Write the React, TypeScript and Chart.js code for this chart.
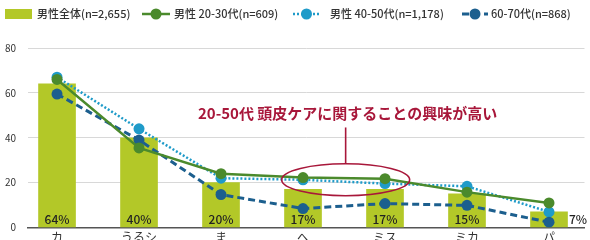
import React, { useEffect, useRef } from "react";
import { Chart, registerables } from "chart.js";
Chart.register(...registerables);

const categories = ["カ", "うるシ", "ま", "へ", "ミス", "ミカ", "パ"];
const totalValues = [64, 40, 20, 17, 17, 15, 7];
const age2030 = [66, 35.5, 24, 22.3, 21.8, 15.8, 11];
const age4050 = [67, 44, 22, 21.3, 19.6, 18.4, 7];
const age6070 = [59.5, 39, 14.7, 8.5, 10.7, 9.9, 2.4];
const yTicks = [0, 20, 40, 60, 80];
const seriesNames = ["男性全体(n=2,655)", "男性 20-30代(n=609)", "男性 40-50代(n=1,178)", "60-70代(n=868)"];
const annotationText = "20-50代 頭皮ケアに関することの興味が高い";

const FONT = "'Noto Sans CJK JP', 'Noto Sans', sans-serif";
const BAR_COLOR = "#b3c828";
const GREEN = "#4b8a2c";
const LIGHT_BLUE = "#1f9bc9";
const DARK_BLUE = "#1c5f8e";
const RED = "#a8173a";

const toPts = (arr: number[]) => arr.map((v, i) => ({ x: i, y: v }));

const overlay = {
  id: "overlay",
  afterDatasetsDraw(chart: any) {
    const ctx = chart.ctx;
    const xs = chart.scales.x;
    const ys = chart.scales.y;
    const barMeta = chart.getDatasetMeta(0);
    ctx.save();
    ctx.font = `500 12px ${FONT}`;
    ctx.fillStyle = "#222";
    ctx.textBaseline = "middle";
    ctx.textAlign = "center";
    const base = ys.getPixelForValue(0);
    barMeta.data.forEach((bar: any, i: number) => {
      const v = totalValues[i];
      const txt = `${v}%`;
      if (v < 10) {
        ctx.fillText(txt, bar.x + 29, base - 8);
      } else {
        ctx.fillText(txt, bar.x, base - 8);
      }
    });
    const cx = xs.getPixelForValue(3.52);
    const cy = ys.getPixelForValue(21.3);
    ctx.strokeStyle = RED;
    ctx.lineWidth = 1.6;
    ctx.beginPath();
    ctx.ellipse(cx, cy, 64, 16, 0, 0, Math.PI * 2);
    ctx.stroke();
    ctx.beginPath();
    ctx.moveTo(cx, ys.getPixelForValue(44.6));
    ctx.lineTo(cx, cy - 16);
    ctx.stroke();
    ctx.font = `600 15px ${FONT}`;
    ctx.fillStyle = RED;
    ctx.fillText(annotationText, cx + 2, ys.getPixelForValue(51));
    ctx.restore();
  },
  afterDraw(chart: any) {
    const ctx = chart.ctx;
    ctx.save();
    const y = 14;
    ctx.font = `500 11px ${FONT}`;
    ctx.fillStyle = "#333";
    ctx.textBaseline = "middle";
    ctx.textAlign = "left";
    ctx.fillStyle = BAR_COLOR;
    ctx.fillRect(5, 9, 27, 10);
    ctx.fillStyle = "#333";
    ctx.fillText(seriesNames[0], 37, y);
    const lineItem = (x0: number, x1: number, color: string, dash: number[], tx: number, label: string, w: number) => {
      ctx.strokeStyle = color;
      ctx.lineWidth = w;
      ctx.setLineDash(dash);
      ctx.beginPath();
      ctx.moveTo(x0, y);
      ctx.lineTo(x1, y);
      ctx.stroke();
      ctx.setLineDash([]);
      ctx.fillStyle = color;
      ctx.beginPath();
      ctx.arc((x0 + x1) / 2, y, 5.5, 0, Math.PI * 2);
      ctx.fill();
      ctx.fillStyle = "#333";
      ctx.fillText(label, tx, y);
    };
    lineItem(142, 170, GREEN, [], 174, seriesNames[1], 2.5);
    lineItem(293, 320, LIGHT_BLUE, [2, 2], 330, seriesNames[2], 2.5);
    lineItem(462, 488, DARK_BLUE, [7, 4], 491, seriesNames[3], 3);
    ctx.restore();
  },
};

export default function App() {
  const ref = useRef<HTMLCanvasElement>(null);
  useEffect(() => {
    if (!ref.current) return;
    Chart.defaults.font.family = FONT;
    const chart = new Chart(ref.current, {
      type: "bar",
      data: {
        datasets: [
          {
            type: "bar",
            label: seriesNames[0],
            data: toPts(totalValues),
            backgroundColor: BAR_COLOR,
            barThickness: 37,
            order: 4,
          } as any,
          {
            type: "line",
            label: seriesNames[1],
            data: toPts(age2030),
            borderColor: GREEN,
            backgroundColor: GREEN,
            borderWidth: 2.5,
            pointRadius: 5.5,
            pointBorderWidth: 0,
            order: 1,
          },
          {
            type: "line",
            label: seriesNames[2],
            data: toPts(age4050),
            borderColor: LIGHT_BLUE,
            backgroundColor: LIGHT_BLUE,
            borderWidth: 2.5,
            borderDash: [2, 2],
            pointRadius: 5.5,
            pointBorderWidth: 0,
            order: 3,
          },
          {
            type: "line",
            label: seriesNames[3],
            data: toPts(age6070),
            borderColor: DARK_BLUE,
            backgroundColor: DARK_BLUE,
            borderWidth: 3,
            borderDash: [7, 4],
            pointRadius: 5.5,
            pointBorderWidth: 0,
            order: 2,
          },
        ],
      },
      options: {
        responsive: false,
        animation: false,
        layout: { padding: { top: 48, left: 0, right: 0, bottom: 0 } },
        plugins: { legend: { display: false }, tooltip: { enabled: false } },
        scales: {
          x: {
            type: "linear",
            bounds: "data",
            min: -0.354,
            max: 6.433,
            offset: false,
            afterBuildTicks: (axis: any) => {
              axis.ticks = categories.map((_, i) => ({ value: i }));
            },
            ticks: {
              callback: (v: any) => categories[v] ?? "",
              font: { size: 12 },
              color: "#333",
              padding: 3,
              maxRotation: 0,
              autoSkip: false,
            },
            grid: { display: false, drawTicks: false, offset: false },
            border: { display: true, color: "#555", width: 1.5 },
          },
          y: {
            min: 0,
            max: 80,
            afterBuildTicks: (axis: any) => {
              axis.ticks = yTicks.map((v) => ({ value: v }));
            },
            afterFit: (axis: any) => {
              axis.width = 28;
            },
            ticks: { font: { size: 10 }, color: "#333", padding: 12 },
            grid: { color: "#d8d8d8", drawTicks: false },
            border: { display: false },
          },
        },
      },
      plugins: [overlay],
    } as any);
    return () => chart.destroy();
  }, []);
  return (
    <div style={{ position: "absolute", left: 0, top: 0, width: 590, height: 248, background: "#fff" }}>
      <canvas ref={ref} width={590} height={248} />
    </div>
  );
}
